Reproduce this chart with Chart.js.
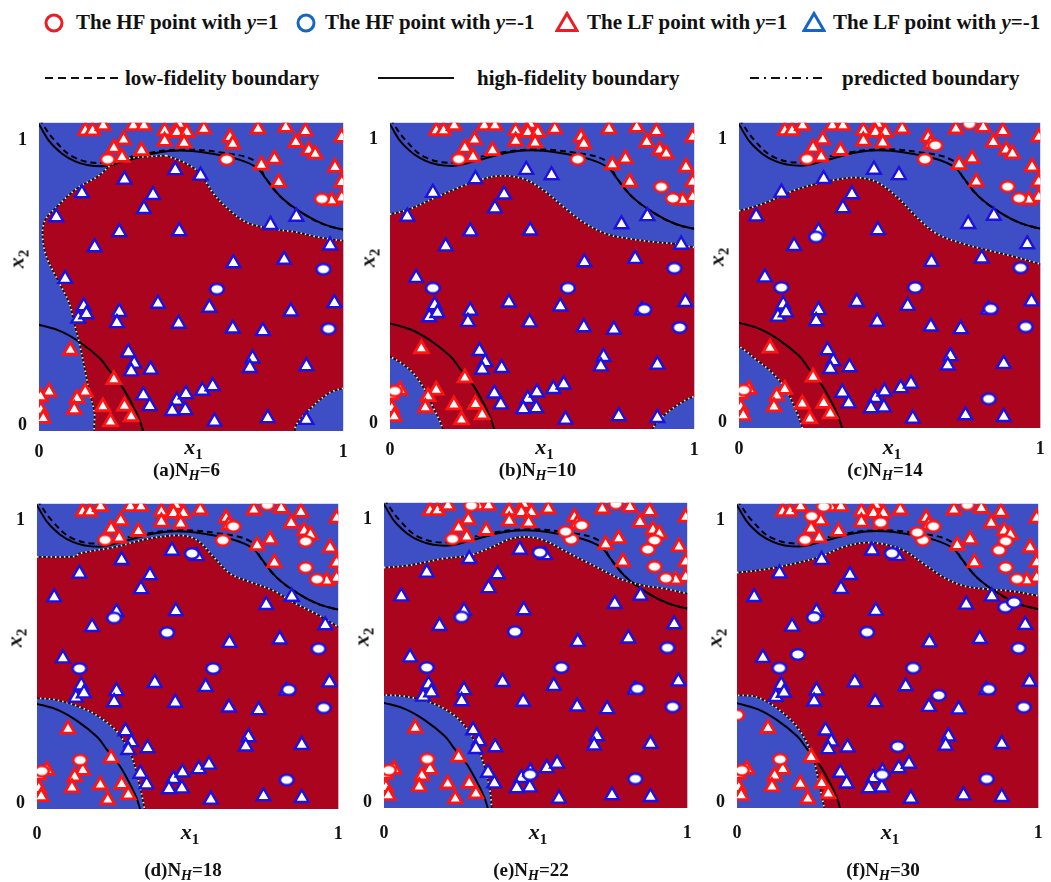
<!DOCTYPE html>
<html>
<head>
<meta charset="utf-8">
<title>Multi-fidelity classification boundaries</title>
<script src="https://cdn.jsdelivr.net/npm/chart.js@4.4.1/dist/chart.umd.min.js"></script>
<style>
  body { margin: 0; width: 1051px; height: 882px; overflow: hidden; position: relative; background: #fff;
         font-family: "Liberation Serif", "Times New Roman", serif; font-weight: bold; color: #111; }
  .leg { position: absolute; font-size: 21px; line-height: 24px; white-space: nowrap; }
  .sym { position: absolute; }
  canvas { position: absolute; }
  .axt { position: absolute; white-space: nowrap; font-size: 22px; line-height: 22px; }
  .axt sub { font-size: 15px; vertical-align: -5px; font-style: normal; }
  .cap { position: absolute; white-space: nowrap; font-size: 19px; line-height: 20px; }
  .cap sub { font-size: 14px; vertical-align: -4px; }
</style>
</head>
<body>

<!-- legend, first row: sample markers -->
<svg class="sym" style="left:43px;top:12px" width="22" height="22"><circle cx="11" cy="11" r="8" fill="none" stroke="#ec1c24" stroke-width="3"/></svg>
<div class="leg" style="left:76px;top:10px">The HF point with <i>y</i>=1</div>
<svg class="sym" style="left:295px;top:12px" width="22" height="22"><circle cx="11" cy="11" r="8" fill="none" stroke="#1466c6" stroke-width="3"/></svg>
<div class="leg" style="left:325px;top:10px">The HF point with <i>y</i>=-1</div>
<svg class="sym" style="left:555px;top:11px" width="24" height="22"><polygon points="12,2.5 22,19.5 2,19.5" fill="none" stroke="#ec1c24" stroke-width="3"/></svg>
<div class="leg" style="left:587px;top:10px">The LF point with <i>y</i>=1</div>
<svg class="sym" style="left:802px;top:11px" width="24" height="22"><polygon points="12,2.5 22,19.5 2,19.5" fill="none" stroke="#1466c6" stroke-width="3"/></svg>
<div class="leg" style="left:833px;top:10px">The LF point with <i>y</i>=-1</div>

<!-- legend, second row: boundary line styles -->
<svg class="sym" style="left:45px;top:73px" width="74" height="10"><line x1="0" y1="5" x2="74" y2="5" stroke="#111" stroke-width="2" stroke-dasharray="8,5"/></svg>
<div class="leg" style="left:125px;top:66px">low-fidelity boundary</div>
<svg class="sym" style="left:378px;top:73px" width="76" height="10"><line x1="0" y1="5" x2="76" y2="5" stroke="#111" stroke-width="2"/></svg>
<div class="leg" style="left:477px;top:66px">high-fidelity boundary</div>
<svg class="sym" style="left:750px;top:73px" width="72" height="10"><line x1="0" y1="5" x2="72" y2="5" stroke="#111" stroke-width="2" stroke-dasharray="9,5,2,5"/></svg>
<div class="leg" style="left:842px;top:66px">predicted boundary</div>

<script>
// ---- data -------------------------------------------------------------

const panelTags = ['(a)', '(b)', '(c)', '(d)', '(e)', '(f)'];
const panelNH = [6, 10, 14, 18, 22, 30];
const xTicks = [0, 1];
const yTicks = [0, 1];

// low-fidelity samples, [x1, x2], shared by every run
const lfPos = [
  [0.152, 1.032], [0.176, 1.032], [0.211, 1.05], [0.310, 1.05], [0.345, 1.05], [0.413, 1.032],
  [0.461, 1.055], [0.453, 1.026], [0.486, 1.026], [0.542, 1.038], [0.720, 1.038], [0.811, 1.044],
  [0.876, 1.03], [0.995, 1.009], [0.278, 1.0], [0.413, 0.995], [0.477, 0.989], [0.628, 1.009],
  [0.637, 0.985], [0.844, 0.991], [0.887, 0.964], [0.908, 0.95], [0.246, 0.971], [0.337, 0.962],
  [0.273, 0.939], [0.774, 0.933], [0.973, 0.904], [0.788, 0.851], [0.995, 0.851], [0.995, 0.797],
  [0.731, 0.912], [0.962, 0.787],
  [0.103, 0.263], [0.033, 0.117], [0.005, 0.10], [0.152, 0.117], [0.125, 0.094], [0.116, 0.055],
  [0.006, 0.053], [0.014, 0.024], [0.246, 0.16], [0.21, 0.065], [0.281, 0.067], [0.235, 0.012],
  [0.303, 0.03]
];
const lfNeg = [
  [0.448, 0.894], [0.531, 0.875], [0.281, 0.861], [0.141, 0.813], [0.375, 0.807], [0.345, 0.758],
  [0.057, 0.729], [0.846, 0.731], [0.761, 0.702], [0.264, 0.677], [0.461, 0.68], [0.183, 0.624],
  [0.957, 0.63], [0.639, 0.568], [0.806, 0.58], [0.086, 0.513], [0.391, 0.426], [0.147, 0.417],
  [0.129, 0.374], [0.156, 0.389], [0.264, 0.397], [0.256, 0.358], [0.560, 0.412], [0.828, 0.399],
  [0.971, 0.428], [0.459, 0.356], [0.637, 0.339], [0.736, 0.33], [0.294, 0.255], [0.313, 0.216],
  [0.303, 0.189], [0.367, 0.195], [0.702, 0.234], [0.693, 0.201], [0.879, 0.207], [0.343, 0.105],
  [0.364, 0.067], [0.453, 0.086], [0.483, 0.109], [0.481, 0.053], [0.438, 0.05], [0.537, 0.121],
  [0.571, 0.137], [0.752, 0.025], [0.577, 0.013], [0.879, 0.019]
];

// high-fidelity samples in the order they were added: [x1, x2, label]
const hfSamples = [
  [0.226, 0.932, 1], [0.617, 0.931, 1], [0.93, 0.793, 1], [0.585, 0.477, -1], [0.935, 0.547, -1], [0.952, 0.338, -1],
  [0.892, 0.834, 1], [0.016, 0.114, 1], [0.141, 0.477, -1], [0.836, 0.402, -1],
  [0.652, 0.98, 1], [0.765, 1.056, 1], [0.256, 0.656, -1], [0.829, 0.083, -1],
  [0.892, 0.927, 1], [0.143, 0.153, 1], [0.514, 0.884, -1], [0.432, 0.604, -1],
  [0.288, 1.05, 1], [0.87, 0.895, 1], [0.482, 0.098, -1], [0.599, 0.958, 1],
  [0.248, 1.016, 1], [0.477, 0.993, 1], [0.0, 0.31, 1], [0.202, 0.525, -1], [0.67, 0.38, -1],
  [0.534, 0.198, -1], [0.891, 0.693, -1], [0.92, 0.71, -1]
];

// true class boundaries
const hfUpper = [
  [-0.01, 1.07], [0.0, 1.054], [0.043, 0.984], [0.119, 0.925], [0.205, 0.908], [0.28, 0.925], [0.388, 0.955],
  [0.464, 0.963], [0.55, 0.955], [0.658, 0.931], [0.717, 0.902], [0.744, 0.867], [0.798, 0.797],
  [0.874, 0.738], [0.939, 0.703], [1.0, 0.686], [1.02, 0.682]
];
const hfLower = [
  [-0.02, 0.355], [0.0, 0.352], [0.07, 0.33], [0.133, 0.292], [0.2, 0.235], [0.23, 0.193], [0.27, 0.14],
  [0.305, 0.076], [0.33, 0.02], [0.345, -0.03]
];
const lfUpper = [
  [0.0, 1.075], [0.05, 1.0], [0.119, 0.937], [0.216, 0.92], [0.334, 0.949], [0.464, 0.966],
  [0.604, 0.955], [0.712, 0.925], [0.744, 0.867], [0.798, 0.797], [0.874, 0.738], [0.939, 0.703],
  [1.0, 0.686], [1.02, 0.682]
];

// region classified as y=-1 inside the blue field, one outline per run
const predictedRegion = [
  [[0.418, 0.945], [0.477, 0.921], [0.52, 0.892], [0.55, 0.85], [0.574, 0.811], [0.60, 0.78], [0.628, 0.752],
   [0.66, 0.725], [0.693, 0.706], [0.768, 0.688], [0.844, 0.677], [0.919, 0.659], [1.0, 0.647], [1.03, 0.645],
   [1.03, 0.125], [1.0, 0.129], [0.951, 0.111], [0.887, 0.053], [0.845, 0.0], [0.83, -0.06], [0.2, -0.06],
   [0.181, 0.053], [0.165, 0.12], [0.15, 0.2], [0.133, 0.286], [0.116, 0.356], [0.1, 0.426], [0.068, 0.496],
   [0.025, 0.589], [0.012, 0.659], [0.019, 0.717], [0.057, 0.764], [0.122, 0.828], [0.197, 0.875],
   [0.24, 0.915], [0.283, 0.933], [0.348, 0.941], [0.418, 0.945]],
  [[-0.03, 0.738], [0.0, 0.738], [0.065, 0.756], [0.151, 0.797], [0.227, 0.832], [0.302, 0.861], [0.367, 0.873],
   [0.442, 0.861], [0.507, 0.82], [0.572, 0.762], [0.636, 0.709], [0.712, 0.668], [0.787, 0.651], [0.874, 0.639],
   [0.939, 0.633], [1.0, 0.621], [1.03, 0.62], [1.03, 0.093], [1.0, 0.095], [0.939, 0.06], [0.885, 0.013],
   [0.863, -0.02], [0.85, -0.06], [0.17, -0.06], [0.173, -0.02], [0.14, 0.06], [0.108, 0.13], [0.065, 0.189],
   [0.0, 0.235], [-0.03, 0.237]],
  [[-0.03, 0.75], [0.0, 0.749], [0.09, 0.778], [0.178, 0.819], [0.254, 0.843], [0.33, 0.86], [0.395, 0.866],
   [0.46, 0.849], [0.526, 0.796], [0.591, 0.725], [0.657, 0.667], [0.744, 0.632], [0.831, 0.608], [0.918, 0.585],
   [1.0, 0.561], [1.03, 0.555], [1.03, -0.06], [0.21, -0.06], [0.21, -0.02], [0.188, 0.045], [0.156, 0.115],
   [0.112, 0.174], [0.058, 0.221], [0.0, 0.268], [-0.03, 0.27]],
  [[-0.03, 0.872], [0.0, 0.872], [0.129, 0.874], [0.139, 0.884], [0.259, 0.907], [0.368, 0.936], [0.477, 0.948],
   [0.532, 0.931], [0.586, 0.872], [0.641, 0.813], [0.706, 0.784], [0.782, 0.754], [0.858, 0.707], [0.924, 0.672],
   [1.0, 0.625], [1.03, 0.61], [1.03, -0.06], [0.36, -0.06], [0.357, -0.02], [0.336, 0.084], [0.314, 0.166],
   [0.27, 0.248], [0.205, 0.307], [0.139, 0.342], [0.063, 0.366], [0.0, 0.372], [-0.03, 0.372]],
  [[-0.03, 0.831], [0.0, 0.831], [0.084, 0.839], [0.192, 0.862], [0.281, 0.874], [0.355, 0.903], [0.419, 0.933],
   [0.474, 0.939], [0.528, 0.927], [0.592, 0.892], [0.657, 0.856], [0.711, 0.827], [0.776, 0.792], [0.852, 0.768],
   [0.928, 0.756], [1.0, 0.739], [1.03, 0.735], [1.03, -0.06], [0.356, -0.06], [0.355, -0.02], [0.349, 0.045],
   [0.328, 0.139], [0.29, 0.233], [0.236, 0.304], [0.16, 0.351], [0.074, 0.374], [0.0, 0.38], [-0.03, 0.38]],
  [[-0.03, 0.816], [0.0, 0.816], [0.098, 0.828], [0.207, 0.852], [0.283, 0.875], [0.349, 0.905], [0.425, 0.922],
   [0.49, 0.916], [0.556, 0.893], [0.621, 0.846], [0.686, 0.799], [0.752, 0.769], [0.828, 0.757], [0.904, 0.751],
   [1.0, 0.734], [1.03, 0.73], [1.03, -0.06], [0.29, -0.06], [0.289, -0.02], [0.272, 0.068], [0.251, 0.163],
   [0.207, 0.257], [0.142, 0.327], [0.065, 0.374], [0.0, 0.38], [-0.03, 0.38]]
];

// ---- layout & style ---------------------------------------------------

// plot rectangles on the page: left, top, right, bottom
const panelBoxes = [
  [39, 122, 348, 431], [390, 122, 699, 429], [739, 122, 1045, 428],
  [37, 503, 343, 809], [384, 502, 692, 808], [737, 503, 1043, 808]
];
const AXIS_W = 39, AXIS_H = 34, PAD_T = 10, PAD_R = 6;

const FIELD_BLUE = 'rgb(62,78,196)';
const FIELD_RED = 'rgb(170,4,30)';
const MARK_RED = '#ff1414';
const MARK_BLUE = '#1c12e0';

function ellipseMark(stroke) {
  const c = document.createElement('canvas');
  c.width = 18; c.height = 15;
  const g = c.getContext('2d');
  g.beginPath();
  g.ellipse(9, 7.5, 6.9, 5.3, 0, 0, Math.PI * 2);
  g.fillStyle = '#fff';
  g.fill();
  g.lineWidth = 2.6;
  g.strokeStyle = stroke;
  g.stroke();
  return c;
}
const hfRedMark = ellipseMark(MARK_RED);
const hfBlueMark = ellipseMark(MARK_BLUE);

const toXY = pairs => pairs.map(p => ({x: p[0], y: p[1]}));

const fieldBg = {
  id: 'fieldBg',
  beforeDatasetsDraw(chart) {
    const {ctx, chartArea: a} = chart;
    ctx.save();
    ctx.fillStyle = FIELD_BLUE;
    ctx.fillRect(a.left, a.top, a.right - a.left, a.bottom - a.top);
    ctx.restore();
  }
};

const tickFont = {family: '"Liberation Serif", serif', weight: 'bold', size: 18};

function lineSet(pts, color, width, dash, order) {
  return {data: toXY(pts), showLine: true, pointRadius: 0, borderColor: color, borderWidth: width,
          borderDash: dash, fill: false, tension: 0.4, order: order, clip: 0};
}

// keep the plot rectangle fixed: no extra room for end labels
function noLabelPadding(s) {
  s.paddingTop = 0; s.paddingBottom = 0; s.paddingLeft = 0; s.paddingRight = 0;
}

function makePanel(i) {
  const [L, T, R, B] = panelBoxes[i];
  const cv = document.createElement('canvas');
  cv.width = R - L + AXIS_W + PAD_R;
  cv.height = B - T + PAD_T + AXIS_H;
  cv.style.left = (L - AXIS_W) + 'px';
  cv.style.top = (T - PAD_T) + 'px';
  document.body.appendChild(cv);

  const hf = hfSamples.slice(0, panelNH[i]);
  const region = predictedRegion[i];

  new Chart(cv, {
    type: 'scatter',
    data: {
      datasets: [
        {data: toXY(hf.filter(s => s[2] === 1)), pointStyle: hfRedMark, pointRadius: 7, order: 0, clip: 0},
        {data: toXY(hf.filter(s => s[2] === -1)), pointStyle: hfBlueMark, pointRadius: 7, order: 0, clip: 0},
        {data: toXY(lfPos), pointStyle: 'triangle', pointRadius: 8, pointBackgroundColor: '#fff',
         pointBorderColor: MARK_RED, pointBorderWidth: 2.8, order: 1, clip: 0},
        {data: toXY(lfNeg), pointStyle: 'triangle', pointRadius: 8, pointBackgroundColor: '#fff',
         pointBorderColor: MARK_BLUE, pointBorderWidth: 2.4, order: 1, clip: 0},
        // predicted boundary: light dots over a dark line
        Object.assign(lineSet(region, '#e4e4e4', 1.8, [1.5, 3], 2), {tension: 0.35}),
        lineSet(hfUpper, '#000', 2, [], 3),
        lineSet(hfLower, '#000', 2, [], 3),
        lineSet(lfUpper, '#000', 2, [6, 4], 4),
        {data: toXY(region), showLine: true, pointRadius: 0, borderColor: '#151515', borderWidth: 1.6,
         backgroundColor: FIELD_RED, fill: 'shape', tension: 0.35, order: 5, clip: 0}
      ]
    },
    options: {
      responsive: false,
      animation: false,
      devicePixelRatio: 1,
      events: [],
      layout: {padding: {top: PAD_T, right: PAD_R, left: 0, bottom: 0}},
      plugins: {legend: {display: false}, tooltip: {enabled: false}},
      scales: {
        x: {
          type: 'linear', min: 0, max: 1,
          afterBuildTicks: s => { s.ticks = xTicks.map(v => ({value: v})); },
          afterFit: s => { s.height = AXIS_H; noLabelPadding(s); },
          grid: {display: false, drawTicks: false}, border: {display: false},
          ticks: {padding: i < 3 ? 11 : 15, font: tickFont, color: '#111', maxRotation: 0, autoSkip: false}
        },
        y: {
          type: 'linear', min: -0.02, max: 1.06,
          afterBuildTicks: s => { s.ticks = yTicks.map(v => ({value: v})); },
          afterFit: s => { s.width = AXIS_W; noLabelPadding(s); },
          grid: {display: false, drawTicks: false}, border: {display: false},
          ticks: {padding: 12, font: tickFont, color: '#111', autoSkip: false}
        }
      }
    },
    plugins: [fieldBg]
  });

  // axis titles and the panel caption
  const cx = (L + R) / 2, cy = (T + B) / 2;
  const rowTitleY = i < 3 ? 450 : 835;
  const rowCapY = i < 3 ? 473 : 873;

  const x1 = document.createElement('div');
  x1.className = 'axt';
  x1.innerHTML = '<i>x</i><sub>1</sub>';
  x1.style.left = cx + 'px';
  x1.style.top = rowTitleY + 'px';
  x1.style.transform = 'translate(-50%,-50%)';
  document.body.appendChild(x1);

  const x2 = document.createElement('div');
  x2.className = 'axt';
  x2.innerHTML = '<i>x</i><sub>2</sub>';
  x2.style.left = (L - 19) + 'px';
  x2.style.top = (cy - 18) + 'px';
  x2.style.transform = 'translate(-50%,-50%) rotate(-90deg)';
  document.body.appendChild(x2);

  const cap = document.createElement('div');
  cap.className = 'cap';
  cap.innerHTML = panelTags[i] + 'N<sub><i>H</i></sub>=' + panelNH[i];
  cap.style.left = (cx - 7) + 'px';
  cap.style.top = rowCapY + 'px';
  cap.style.transform = 'translate(-50%,-50%)';
  document.body.appendChild(cap);
}

for (let i = 0; i < panelBoxes.length; i++) {
  makePanel(i);
}
</script>
</body>
</html>
